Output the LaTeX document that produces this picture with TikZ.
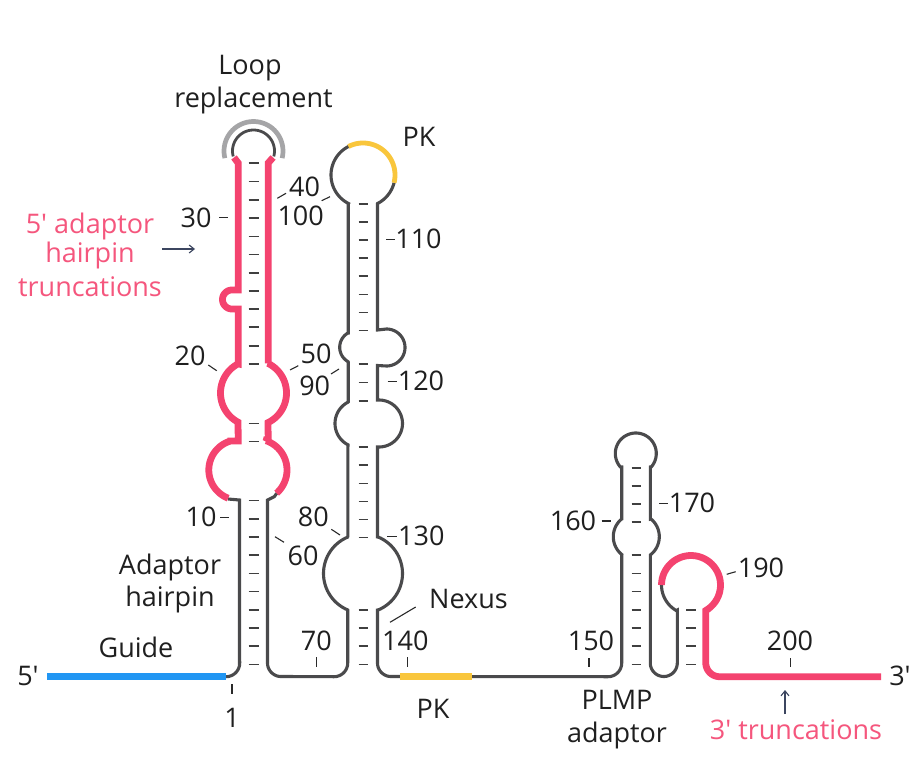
\documentclass[tikz,border=0pt]{standalone}
\usepackage{fontspec}
\setmainfont{Open Sans}
\usetikzlibrary{arrows.meta}
\definecolor{rna}{HTML}{4A4A4C}
\definecolor{pinkc}{HTML}{F4436F}
\definecolor{bluec}{HTML}{2196F3}
\definecolor{yelc}{HTML}{F9C63C}
\definecolor{greyc}{HTML}{A5A5A7}
\definecolor{lead}{HTML}{2A2A2A}
\definecolor{arrowc}{HTML}{3C4660}
\newcommand\Arc[5]{plot[domain=#4:#5,samples=40]({#1+#3*cos(\x)},{#2+#3*sin(\x)})}
\newcommand\LArc[5]{-- plot[domain=#4:#5,samples=40]({#1+#3*cos(\x)},{#2+#3*sin(\x)})}
\tikzset{
  strand/.style={draw=rna,line width=3.1pt,fill=none,miter limit=2},
  pinkline/.style={draw=pinkc,line width=6.8pt,fill=none,miter limit=2},
  tickm/.style={draw=black!75,line width=1.6pt},
  leader/.style={draw=lead,line width=1.1pt},
  lab/.style={font=\fontsize{27}{30}\selectfont,text=black!88,inner sep=0pt,anchor=center},
  pinklab/.style={lab,text=pinkc!90!white},
  thinarrow/.style={draw=arrowc,line width=1.1pt,-{Straight Barb[length=5pt,width=8pt]}}
}
\begin{document}
\begin{tikzpicture}[x=1pt,y=-1pt]
\path[use as bounding box,fill=white] (0,0) rectangle (921,767);
% base pair ticks
\foreach \y in {163.3,181.6,200,218.3,236.7,254.7,273,291.3,309.3,327.3,345.7,364,423.3,441.3,500.3,518.7,536.7,555,573.3,591.3,609.7,627.7,646,664.3}
  \draw[tickm] (248.5,\y) -- (258.5,\y);
\foreach \y in {204,222,240,258.3,276.3,294.7,312.7,330.7,364,382.3,400.7,447,465,483.3,501.3,519.3,537.3,609.7,627.7,646,664.3}
  \draw[tickm] (358.5,\y) -- (368,\y);
\foreach \y in {467.7,485.7,503.7,521.7,555,573.3,591.3,609.7,627.7,645.7,664.3}
  \draw[tickm] (631.5,\y) -- (641,\y);
\foreach \y in {609.7,627.7,645.7,664.3}
  \draw[tickm] (686,\y) -- (696,\y);
% loop replacement
\draw[draw=greyc,line width=4.7pt] \Arc{253.5}{151}{29.5}{166}{374};
\draw[strand,line width=2.8pt] \Arc{253.5}{151}{21}{165}{375};
% first hairpin, lower grey part
\draw[strand] (228,499) -- (239.5,500) -- (239.5,663) \LArc{226}{663}{13.7}{0}{90};
\draw[strand] (276.7,493.3) -- (274.3,496.7) -- (267.5,500) -- (267.5,663) \LArc{281}{663}{13.5}{180}{90} \LArc{334}{663}{13.7}{90}{0} -- (347.7,610) \LArc{363}{573.5}{39.5}{113}{247} -- (347.6,537);
% second hairpin
\draw[strand] (347.9,537) -- (347.9,447) \LArc{359}{423.5}{24}{117}{243} -- (348.2,402) -- (348.2,362) \LArc{356.2}{347.3}{16.5}{120}{240} -- (348.2,333) -- (348.2,204) \LArc{363}{175}{32}{117}{244};
\draw[strand] (377.5,204) \LArc{363}{175}{32}{63}{14};
\draw[strand] (377.5,204) -- (377.5,330) -- (386.5,329) \LArc{386.5}{347.5}{18.5}{-90}{90} -- (377.5,365.5) -- (377.5,400) -- (379,400) \LArc{379}{423.5}{23.5}{-90}{90} -- (377.5,447) -- (377.5,537) \LArc{363}{573.5}{39.5}{-67}{67} -- (377.5,610) -- (377.5,663) \LArc{391}{663}{13.5}{180}{90} -- (608,676.7) \LArc{608}{663}{13.7}{90}{0} -- (621.7,555) \LArc{636.3}{536.7}{23}{129}{231} -- (621.7,520) -- (621.7,467) \LArc{635.8}{453.5}{20.5}{139}{401} -- (650.3,467) -- (650.3,519) \LArc{636.3}{536.7}{23}{-51}{51} -- (650.3,555) -- (650.3,663) \LArc{663.8}{663}{13.5}{180}{0} -- (677.3,610) \LArc{691}{585}{29.5}{120}{180};
% coloured segments
\draw[line width=6.8pt,draw=bluec] (47,676.7) -- (226,676.7);
\draw[line width=7pt,draw=yelc] (400,676.7) -- (472,676.7);
\draw[line width=4.8pt,draw=yelc] \Arc{363}{175}{32}{-117}{14};
% pink hairpin
\draw[pinkline] (234,157.5) -- (238.2,163) -- (238.2,290) -- (232,290) \LArc{232}{299.5}{9.5}{-90}{-270} -- (238.2,309) -- (238.2,363.9) \LArc{253.5}{393}{33}{242}{118} -- (238.2,438) -- (238.2,441) -- (230.2,441) \LArc{239}{470}{30.2}{253}{111};
\draw[pinkline] (273,157.5) -- (268.2,163) -- (268.2,363.4) \LArc{253.5}{393}{33}{-64}{64} -- (268.2,438) -- (266,441) \LArc{256}{470}{31}{-71}{48.4};
% pink 3' end
\draw[pinkline] \Arc{691}{585}{29.5}{180}{420} -- (705.75,663) \LArc{719.75}{662.7}{14}{180}{90} -- (881,676.7);
% leader lines
\draw[leader] (277.3,198.3) -- (286,193.3);
\draw[leader] (321.7,200.7) -- (330,196.7);
\draw[leader] (219.3,217.3) -- (228.3,217.3);
\draw[leader] (386,239.3) -- (395,239.3);
\draw[leader] (208.3,365) -- (216.7,370.7);
\draw[leader] (290,370) -- (298.3,365.7);
\draw[leader] (331,374) -- (339,369);
\draw[leader] (387.7,381.7) -- (396.7,381.7);
\draw[leader] (220,517.7) -- (228.7,517.7);
\draw[leader] (275,536.7) -- (284,542.3);
\draw[leader] (331.3,529.3) -- (340,535);
\draw[leader] (387.3,536.7) -- (396.7,536.7);
\draw[leader] (316.3,657.3) -- (316.3,667.3);
\draw[leader] (407.7,657.3) -- (407.7,667.3);
\draw[leader] (390,622.3) -- (415.7,607);
\draw[leader] (232,684) -- (232,694);
\draw[leader] (589,658) -- (589,667);
\draw[leader] (601.7,521) -- (611,521);
\draw[leader] (659,503.3) -- (668.3,503.3);
\draw[leader] (726.7,574.3) -- (735.7,571.7);
\draw[leader] (790.5,658) -- (790.5,667);
% arrows
\coordinate (a1s) at (162,249); \coordinate (a1e) at (195,249);
\coordinate (a2s) at (785,714); \coordinate (a2e) at (785,690);
\draw[thinarrow] (a1s) -- (a1e);
\draw[thinarrow] (a2s) -- (a2e);
% labels
\node[lab] (loop) at (250,68) {Loop};
\node[lab] (repl) at (253.5,100) {replacement};
\node[lab] (pk1) at (419,137) {PK};
\node[lab] (n40) at (304.5,187) {40};
\node[lab] (n100) at (300.7,216) {100};
\node[lab] (n30) at (196,217.5) {30};
\node[pinklab] (t1) at (90,226) {5′ adaptor};
\node[pinklab] (t2) at (90,255) {hairpin};
\node[pinklab] (t3) at (90,287) {truncations};
\node[lab] (n110) at (418.5,238.5) {110};
\node[lab] (n20) at (190,356) {20};
\node[lab] (n50) at (316,354.3) {50};
\node[lab] (n90) at (314.7,386) {90};
\node[lab] (n120) at (421,381) {120};
\node[lab] (n10) at (201,517.3) {10};
\node[lab] (n60) at (303,556) {60};
\node[lab] (n80) at (313.3,516.7) {80};
\node[lab] (n130) at (421.3,536) {130};
\node[lab] (n70) at (316.3,640.7) {70};
\node[lab] (n140) at (405.3,640.7) {140};
\node[lab] (nexus) at (468.5,599) {Nexus};
\node[lab] (n1) at (232,718) {1};
\node[lab] (guide) at (136,647) {Guide};
\node[lab] (adp) at (170,567) {Adaptor};
\node[lab] (hrp) at (170,599) {hairpin};
\node[lab] (five) at (28,676) {5′};
\node[lab] (three) at (900,676) {3′};
\node[lab] (pk2) at (433,709) {PK};
\node[lab] (plmp) at (617,700) {PLMP};
\node[lab] (adp2) at (617,735) {adaptor};
\node[pinklab] (t4) at (796,730) {3′ truncations};
\node[lab] (n200) at (790,641) {200};
\node[lab] (n150) at (591,641) {150};
\node[lab] (n160) at (573,521) {160};
\node[lab] (n170) at (692,503.3) {170};
\node[lab] (n190) at (761,568) {190};
\end{tikzpicture}
\end{document}
